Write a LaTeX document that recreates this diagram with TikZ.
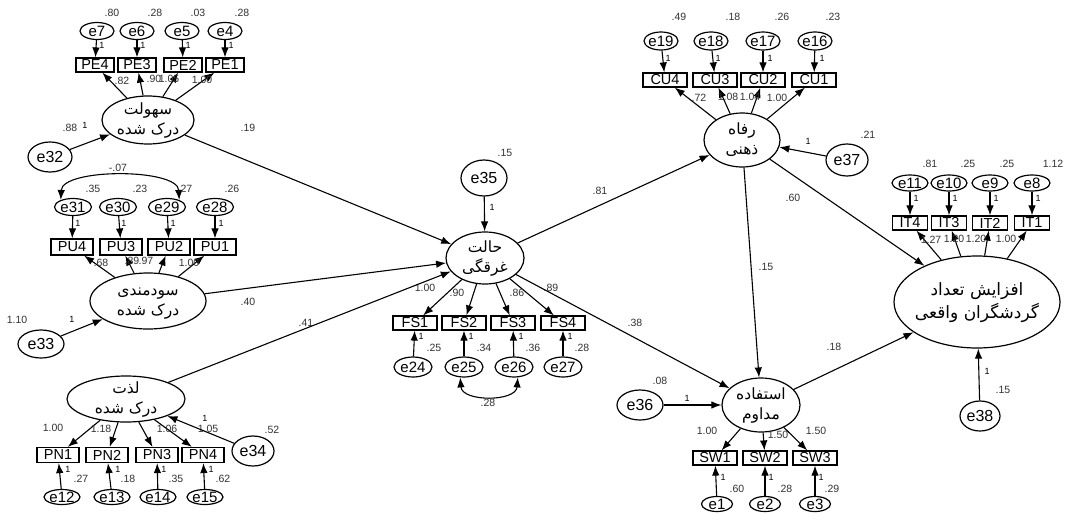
\documentclass[tikz,border=0pt]{standalone}
\usepackage{fontspec}
\setmainfont{Liberation Sans}
\newfontfamily\arabicfont[Script=Arabic]{DejaVu Sans}
\TeXXeTstate=1
\usetikzlibrary{shapes.geometric,arrows.meta}
\newcommand\zt[1]{\makebox[0pt]{\smash{\raisebox{-0.36em}{#1}}}}
\newcommand\zl[2]{\makebox[0pt]{\smash{\raisebox{-0.28em}{\arabicfont\begin{tabular}{@{}c@{}}#1\\[1pt]#2\end{tabular}}}}}
\tikzset{
  arr/.style={-{Latex[length=10pt,width=7.5pt]}, line width=1.1pt},
  cov/.style={{Latex[length=10pt,width=7.5pt]}-{Latex[length=10pt,width=7.5pt]}, line width=1.1pt},
  err/.style={ellipse, draw, line width=1.2pt, inner sep=0pt, minimum width=34pt, minimum height=17pt, font=\fontsize{15}{16}\selectfont},
  bigerr/.style={ellipse, draw, line width=1.2pt, inner sep=0pt, font=\fontsize{16}{17}\selectfont},
  obs/.style={rectangle, draw, line width=1.2pt, inner sep=0pt, minimum width=40pt, minimum height=14pt, font=\fontsize{14.5}{15}\selectfont},
  lat/.style={ellipse, draw, line width=1.2pt, inner sep=0pt, font=\fontsize{15.5}{19}\selectfont},
  num/.style={inner sep=0.5pt, font=\fontsize{10.5}{11}\selectfont, text=black!80},
  one/.style={inner sep=0.5pt, font=\fontsize{9}{10}\selectfont}
}
\begin{document}
\begin{tikzpicture}[x=1pt,y=-1pt]
\useasboundingbox (0,0) rectangle (1065,522);
\fill[white] (0,0) rectangle (1065,522);

% ---------------- PE block
\node[lat, minimum width=92pt, minimum height=48pt] (pe) at (148,120) {\zl{\beginR سهولت\endR}{\beginR درک شده\endR}};
\foreach \n/\x in {7/97,6/137,5/182,4/225}{
  \node[err] (e\n) at (\x,31) {\zt{e\n}};
}
\node[obs, minimum width=38pt] (pe4) at (95,65) {PE4};
\node[obs, minimum width=38pt] (pe3) at (137,65) {PE3};
\node[obs, minimum width=38pt] (pe2) at (183,65) {PE2};
\node[obs, minimum width=38pt] (pe1) at (225,65) {PE1};
\draw[arr] (e7) -- (pe4); \draw[arr] (e6) -- (pe3); \draw[arr] (e5) -- (pe2); \draw[arr] (e4) -- (pe1);
\draw[arr] (pe) -- (pe4); \draw[arr] (pe) -- (pe3); \draw[arr] (pe) -- (pe2); \draw[arr] (pe) -- (pe1);
\node[num] (v7) at (112,13) {.80}; \node[num] (v6) at (155,13) {.28};
\node[num] (v5) at (198,13) {.03}; \node[num] (v4) at (242,13) {.28};
\node[one] (o7) at (102,45) {1}; \node[one] (o6) at (143,45) {1};
\node[one] (o5) at (188,45) {1}; \node[one] (o4) at (231,45) {1};
\node[num] (l4) at (122,81) {.82}; \node[num] (l3) at (154,79) {.90};
\node[num] (l2) at (169,79) {1.05}; \node[num] (l1) at (202,80) {1.00};
\node[bigerr, minimum width=44pt, minimum height=30pt] (e32) at (50,157) {\zt{e32}};
\draw[arr] (e32) -- (pe);
\node[num] (v32) at (70,128) {.88}; \node[one] (o32) at (85,125) {1};

% ---------------- PU block
\node[lat, minimum width=116pt, minimum height=56pt] (pu) at (148,301) {\zl{\beginR سودمندی\endR}{\beginR درک شده\endR}};
\node[err, minimum width=37pt] (e31) at (73,207) {\zt{e31}};
\node[err, minimum width=37pt] (e30) at (118,207) {\zt{e30}};
\node[err, minimum width=37pt] (e29) at (167,207) {\zt{e29}};
\node[err, minimum width=37pt] (e28) at (215,207) {\zt{e28}};
\node[obs, minimum width=42pt, minimum height=16pt] (pu4) at (72,247) {PU4};
\node[obs, minimum width=42pt, minimum height=16pt] (pu3) at (121,247) {PU3};
\node[obs, minimum width=42pt, minimum height=16pt] (pu2) at (169,247) {PU2};
\node[obs, minimum width=42pt, minimum height=16pt] (pu1) at (215,247) {PU1};
\draw[arr] (e31) -- (pu4); \draw[arr] (e30) -- (pu3); \draw[arr] (e29) -- (pu2); \draw[arr] (e28) -- (pu1);
\draw[arr] (pu) -- (pu4); \draw[arr] (pu) -- (pu3); \draw[arr] (pu) -- (pu2); \draw[arr] (pu) -- (pu1);
\draw[cov] (e31.150) .. controls (62,168) and (178,168) .. (e29.30);
\node[num] (c1) at (118,168) {-.07};
\node[num] (v31) at (93,189) {.35}; \node[num] (v30) at (140,189) {.23};
\node[num] (v29) at (185,189) {.27}; \node[num] (v28) at (232,189) {.26};
\node[one] (o31) at (78,223) {1}; \node[one] (o30) at (124,223) {1};
\node[one] (o29) at (173,223) {1}; \node[one] (o28) at (221,223) {1};
\node[num] (m4) at (101,263) {.68}; \node[num] (m3) at (132,261) {.89};
\node[num] (m2) at (146,261) {.97}; \node[num] (m1) at (189,263) {1.00};
\node[bigerr, minimum width=46pt, minimum height=28pt] (e33) at (41,344) {\zt{e33}};
\draw[arr] (e33) -- (pu);
\node[num] (v33) at (17,320) {1.10}; \node[one] (o33) at (72,319) {1};

% ---------------- PN block
\node[lat, minimum width=118pt, minimum height=46pt] (pn) at (126,399) {\zl{\beginR لذت\endR}{\beginR درک شده\endR}};
\node[obs, minimum width=42pt, minimum height=15pt] (pn1) at (58,455) {PN1};
\node[obs, minimum width=42pt, minimum height=15pt] (pn2) at (107,455) {PN2};
\node[obs, minimum width=42pt, minimum height=15pt] (pn3) at (157,455) {PN3};
\node[obs, minimum width=42pt, minimum height=15pt] (pn4) at (203,455) {PN4};
\node[err, minimum width=36pt, minimum height=15pt] (e12) at (62,497) {\zt{e12}};
\node[err, minimum width=36pt, minimum height=15pt] (e13) at (112,497) {\zt{e13}};
\node[err, minimum width=36pt, minimum height=15pt] (e14) at (158,497) {\zt{e14}};
\node[err, minimum width=36pt, minimum height=15pt] (e15) at (205,497) {\zt{e15}};
\draw[arr] (e12) -- (pn1); \draw[arr] (e13) -- (pn2); \draw[arr] (e14) -- (pn3); \draw[arr] (e15) -- (pn4);
\draw[arr] (pn) -- (pn1); \draw[arr] (pn) -- (pn2); \draw[arr] (pn) -- (pn3); \draw[arr] (pn) -- (pn4);
\node[one] (o12) at (68,469) {1}; \node[one] (o13) at (118,469) {1};
\node[one] (o14) at (164,469) {1}; \node[one] (o15) at (211,469) {1};
\node[num] (v12) at (81,479) {.27}; \node[num] (v13) at (128,479) {.18};
\node[num] (v14) at (176,479) {.35}; \node[num] (v15) at (223,479) {.62};
\node[num] (n1) at (53,428) {1.00}; \node[num] (n2) at (101,429) {1.18};
\node[num] (n3) at (167,429) {1.06}; \node[num] (n4) at (208,429) {1.05};
\node[bigerr, minimum width=42pt, minimum height=30pt] (e34) at (253,451) {\zt{e34}};
\draw[arr] (e34) -- (pn);
\node[one] (o34) at (205,418) {1}; \node[num] (v34) at (272,430) {.52};

% ---------------- FS block
\node[lat, minimum width=78pt, minimum height=52pt] (fs) at (485,258) {\zl{\beginR حالت\endR}{\beginR غرقگی\endR}};
\node[bigerr, minimum width=46pt, minimum height=36pt] (e35) at (484,178) {\zt{e35}};
\draw[arr] (e35) -- (fs);
\node[num] (v35) at (505,153) {.15}; \node[one] (o35) at (492,207) {1};
\node[obs, minimum width=44pt] (fs1) at (415,323) {FS1};
\node[obs, minimum width=44pt] (fs2) at (464,323) {FS2};
\node[obs, minimum width=44pt] (fs3) at (513,323) {FS3};
\node[obs, minimum width=44pt] (fs4) at (563,323) {FS4};
\node[err, minimum width=38pt, minimum height=20pt] (e24) at (413,367) {\zt{e24}};
\node[err, minimum width=38pt, minimum height=20pt] (e25) at (464,367) {\zt{e25}};
\node[err, minimum width=38pt, minimum height=20pt] (e26) at (514,367) {\zt{e26}};
\node[err, minimum width=38pt, minimum height=20pt] (e27) at (563,367) {\zt{e27}};
\draw[arr] (e24) -- (fs1); \draw[arr] (e25) -- (fs2); \draw[arr] (e26) -- (fs3); \draw[arr] (e27) -- (fs4);
\draw[arr] (fs) -- (fs1); \draw[arr] (fs) -- (fs2); \draw[arr] (fs) -- (fs3); \draw[arr] (fs) -- (fs4);
\draw[cov] (e25.250) .. controls (462,402) and (516,402) .. (e26.290);
\node[num] (c2) at (488,403) {.28};
\node[one] (o24) at (421,336) {1}; \node[one] (o25) at (471,336) {1};
\node[one] (o26) at (521,336) {1}; \node[one] (o27) at (570,336) {1};
\node[num] (v24) at (434,348) {.25}; \node[num] (v25) at (484,348) {.34};
\node[num] (v26) at (533,348) {.36}; \node[num] (v27) at (582,348) {.28};
\node[num] (f1) at (425,288) {1.00}; \node[num] (f2) at (457,293) {.90};
\node[num] (f3) at (517,293) {.86}; \node[num] (f4) at (551,288) {.89};

% ---------------- CU block
\node[lat, minimum width=76pt, minimum height=54pt] (cu) at (742,140) {\zl{\beginR رفاه\endR}{\beginR ذهنی\endR}};
\node[err, minimum width=34pt, minimum height=18pt] (e19) at (661,41) {\zt{e19}};
\node[err, minimum width=34pt, minimum height=18pt] (e18) at (711,41) {\zt{e18}};
\node[err, minimum width=34pt, minimum height=18pt] (e17) at (763,41) {\zt{e17}};
\node[err, minimum width=34pt, minimum height=18pt] (e16) at (815,41) {\zt{e16}};
\node[obs, minimum width=44pt] (cu4) at (665,80) {CU4};
\node[obs, minimum width=44pt] (cu3) at (715,80) {CU3};
\node[obs, minimum width=44pt] (cu2) at (763,80) {CU2};
\node[obs, minimum width=44pt] (cu1) at (814,80) {CU1};
\draw[arr] (e19) -- (cu4); \draw[arr] (e18) -- (cu3); \draw[arr] (e17) -- (cu2); \draw[arr] (e16) -- (cu1);
\draw[arr] (cu) -- (cu4); \draw[arr] (cu) -- (cu3); \draw[arr] (cu) -- (cu2); \draw[arr] (cu) -- (cu1);
\node[num] (v19) at (679,17) {.49}; \node[num] (v18) at (733,17) {.18};
\node[num] (v17) at (782,17) {.26}; \node[num] (v16) at (833,17) {.23};
\node[one] (o19) at (668,58) {1}; \node[one] (o18) at (718,58) {1};
\node[one] (o17) at (770,58) {1}; \node[one] (o16) at (822,58) {1};
\node[num] (k4) at (699,98) {.72}; \node[num] (k3) at (728,97) {1.08};
\node[num] (k2) at (750,97) {1.04}; \node[num] (k1) at (777,98) {1.00};
\node[bigerr, minimum width=42pt, minimum height=32pt] (e37) at (847,160) {\zt{e37}};
\draw[arr] (e37) -- (cu);
\node[one] (o37) at (808,141) {1}; \node[num] (v37) at (868,135) {.21};

% ---------------- IT block
\node[lat, minimum width=166pt, minimum height=92pt, font=\fontsize{17}{22}\selectfont] (it) at (977,302) {\zl{\beginR افزایش تعداد\endR}{\beginR گردشگران واقعی\endR}};
\node[err, minimum width=36pt, minimum height=16pt] (e11) at (910,183) {\zt{e11}};
\node[err, minimum width=36pt, minimum height=16pt] (e10) at (949,183) {\zt{e10}};
\node[err, minimum width=36pt, minimum height=16pt] (e9) at (990,183) {\zt{e9}};
\node[err, minimum width=36pt, minimum height=16pt] (e8) at (1032,183) {\zt{e8}};
\node[obs, minimum width=35pt, minimum height=14pt] (it4) at (910,223) {IT4};
\node[obs, minimum width=35pt, minimum height=14pt] (it3) at (949,223) {IT3};
\node[obs, minimum width=35pt, minimum height=14pt] (it2) at (990,223) {IT2};
\node[obs, minimum width=35pt, minimum height=14pt] (it1) at (1032,223) {IT1};
\draw[arr] (e11) -- (it4); \draw[arr] (e10) -- (it3); \draw[arr] (e9) -- (it2); \draw[arr] (e8) -- (it1);
\draw[arr] (it) -- (it4); \draw[arr] (it) -- (it3); \draw[arr] (it) -- (it2); \draw[arr] (it) -- (it1);
\node[num] (v11) at (930,164) {.81}; \node[num] (v10) at (968,164) {.25};
\node[num] (v9) at (1007,164) {.25}; \node[num] (v8) at (1053,164) {1.12};
\node[one] (o11) at (916,198) {1}; \node[one] (o10) at (955,198) {1};
\node[one] (o9) at (996,198) {1}; \node[one] (o8) at (1038,198) {1};
\node[num] (j4) at (931,240) {1.27}; \node[num] (j3) at (954,239) {1.20};
\node[num] (j2) at (976,239) {1.20}; \node[num] (j1) at (1006,239) {1.00};
\node[bigerr, minimum width=40pt, minimum height=30pt] (e38) at (980,416) {\zt{e38}};
\draw[arr] (e38) -- (it);
\node[one] (o38) at (987,371) {1}; \node[num] (v38) at (1003,390) {.15};

% ---------------- SW block
\node[lat, minimum width=78pt, minimum height=54pt] (sw) at (761,405) {\zl{\beginR استفاده\endR}{\beginR مداوم\endR}};
\node[obs, minimum width=44pt] (sw1) at (715,458) {SW1};
\node[obs, minimum width=44pt] (sw2) at (765,458) {SW2};
\node[obs, minimum width=44pt] (sw3) at (815,458) {SW3};
\node[err, minimum width=31pt, minimum height=15pt] (e1) at (717,504) {\zt{e1}};
\node[err, minimum width=31pt, minimum height=15pt] (e2) at (765,504) {\zt{e2}};
\node[err, minimum width=31pt, minimum height=15pt] (e3) at (815,504) {\zt{e3}};
\draw[arr] (e1) -- (sw1); \draw[arr] (e2) -- (sw2); \draw[arr] (e3) -- (sw3);
\draw[arr] (sw) -- (sw1); \draw[arr] (sw) -- (sw2); \draw[arr] (sw) -- (sw3);
\node[one] (o1) at (723,477) {1}; \node[one] (o2) at (771,477) {1}; \node[one] (o3) at (821,477) {1};
\node[num] (v1) at (737,489) {.60}; \node[num] (v2) at (785,489) {.28}; \node[num] (v3) at (832,489) {.29};
\node[num] (s1) at (707,431) {1.00}; \node[num] (s2) at (778,435) {1.50}; \node[num] (s3) at (816,431) {1.50};
\node[bigerr, minimum width=46pt, minimum height=30pt] (e36) at (640,405) {\zt{e36}};
\draw[arr] (e36) -- (sw);
\node[num] (v36) at (660,381) {.08}; \node[one] (o36) at (687,398) {1};

% ---------------- structural paths
\draw[arr] (pe) -- (fs);
\draw[arr] (pu) -- (fs);
\draw[arr] (pn) -- (fs);
\draw[arr] (fs) -- (cu);
\draw[arr] (fs) -- (sw);
\draw[arr] (cu) -- (sw);
\draw[arr] (cu) -- (it);
\draw[arr] (sw) -- (it);
\node[num] (p1) at (248,128) {.19};
\node[num] (p2) at (248,302) {.40};
\node[num] (p3) at (306,323) {.41};
\node[num] (p4) at (600,191) {.81};
\node[num] (p5) at (635,323) {.38};
\node[num] (p6) at (793,198) {.60};
\node[num] (p7) at (766,267) {.15};
\node[num] (p8) at (834,347) {.18};
\end{tikzpicture}
\end{document}
